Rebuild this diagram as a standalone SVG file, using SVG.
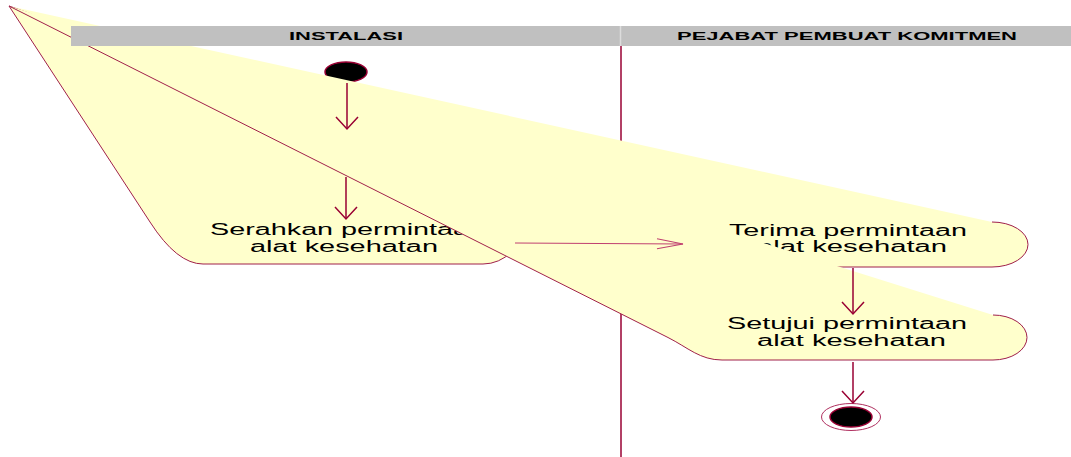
<svg xmlns="http://www.w3.org/2000/svg" width="1071" height="457" viewBox="0 0 1071 457">
  <style>
    .lane-line { stroke: #990033; stroke-width: 1.5; fill: none; }
    .act-fill { fill: #ffffcc; stroke: none; }
    .act-edge { fill: none; stroke: #a0204a; stroke-width: 1; }
    .act-text { font-family: "Liberation Sans", Arial, sans-serif; font-size: 16px; fill: #000; }
    .hdr { fill: #c0c0c0; }
    .hdr-text { font-family: "Liberation Sans", Arial, sans-serif; font-size: 11px; font-weight: bold; fill: #000; }
    .flow { stroke: #990033; stroke-width: 1.5; fill: none; marker-end: url(#open-arrow); }
    .flow-thin { stroke: #c04070; stroke-width: 1; fill: none; marker-end: url(#open-arrow-long); }
    .state-dot { fill: #000; stroke: #990033; stroke-width: 1.5; }
  </style>
  <defs>
    <marker id="open-arrow" markerUnits="userSpaceOnUse" markerWidth="26" markerHeight="26" refX="12" refY="11" orient="auto" overflow="visible">
      <path d="M0,0 L12,11 L0,22" fill="none" stroke="#990033" stroke-width="1.5"/>
    </marker>
    <marker id="open-arrow-long" markerUnits="userSpaceOnUse" markerWidth="30" markerHeight="14" refX="26" refY="5" orient="auto" overflow="visible">
      <path d="M0,0 L26,5 L0,10" fill="none" stroke="#c04070" stroke-width="1"/>
    </marker>
  </defs>

  <rect width="1071" height="457" fill="#ffffff"/>

  <!-- swimlane divider -->
  <g id="lanes">
    <line class="lane-line" x1="621" y1="46" x2="621" y2="457"/>
  </g>

  <!-- initial state -->
  <g id="start">
    <ellipse class="state-dot" cx="346" cy="72" rx="21" ry="10"/>
  </g>

  <!-- activity: Serahkan -->
  <g id="serahkan">
    <path class="act-fill" d="M9 6 L483 182 A40 41 0 0 1 483 264 L203 264 Q177 264 150 222 Z"/>
    <path class="act-edge" d="M483 182 A40 41 0 0 1 483 264 L203 264 Q177 264 150 222 L9 6"/>
    <text class="act-text" x="210" y="235" textLength="275" lengthAdjust="spacingAndGlyphs">Serahkan permintaan</text>
    <text class="act-text" x="250" y="252" textLength="188" lengthAdjust="spacingAndGlyphs">alat kesehatan</text>
  </g>

  <!-- activity: Terima -->
  <g id="terima">
    <path class="act-fill" d="M9 6 L992 222 A36 22.5 0 0 1 992 267 L722 267 Q700 267 690 252 Z"/>
    <path class="act-edge" d="M992 222 A36 22.5 0 0 1 992 267 L722 267 Q700 267 690 252 L9 6"/>
    <text class="act-text" x="729" y="236" textLength="238" lengthAdjust="spacingAndGlyphs">Terima permintaan</text>
    <text class="act-text" x="757" y="252" textLength="190" lengthAdjust="spacingAndGlyphs">alat kesehatan</text>
  </g>

  <!-- activity: Setujui -->
  <g id="setujui">
    <path class="act-fill" d="M9 6 L993 315 A34 22.5 0 0 1 993 360 L722 360 C700 360 688 347.6 668 337.5 Z"/>
    <path class="act-edge" d="M993 315 A34 22.5 0 0 1 993 360 L722 360 C700 360 688 347.6 668 337.5 L9 6"/>
    <text class="act-text" x="727" y="329" textLength="240" lengthAdjust="spacingAndGlyphs">Setujui permintaan</text>
    <text class="act-text" x="757" y="346" textLength="189" lengthAdjust="spacingAndGlyphs">alat kesehatan</text>
  </g>

  <!-- final state -->
  <g id="final">
    <ellipse cx="851" cy="417" rx="29.5" ry="13.5" fill="#ffffff" stroke="#b03060" stroke-width="1"/>
    <ellipse class="state-dot" cx="851" cy="417" rx="21" ry="10"/>
  </g>

  <!-- transitions -->
  <g id="connectors">
    <line class="flow" x1="347" y1="83" x2="347" y2="129"/>
    <line class="flow" x1="346" y1="177" x2="346" y2="219"/>
    <line class="flow-thin" x1="515" y1="243" x2="683" y2="244"/>
    <line class="flow" x1="853" y1="268" x2="853" y2="314"/>
    <line class="flow" x1="853" y1="362" x2="853" y2="403"/>
  </g>

  <!-- swimlane headers -->
  <g id="lane-headers">
    <rect class="hdr" x="71" y="26" width="1000" height="20"/>
    <line x1="620.5" y1="26" x2="620.5" y2="46" stroke="#dcdcdc" stroke-width="1.5"/>
    <text class="hdr-text" x="289" y="40" textLength="114" lengthAdjust="spacingAndGlyphs">INSTALASI</text>
    <text class="hdr-text" x="677" y="40" textLength="340" lengthAdjust="spacingAndGlyphs">PEJABAT PEMBUAT KOMITMEN</text>
  </g>
</svg>
